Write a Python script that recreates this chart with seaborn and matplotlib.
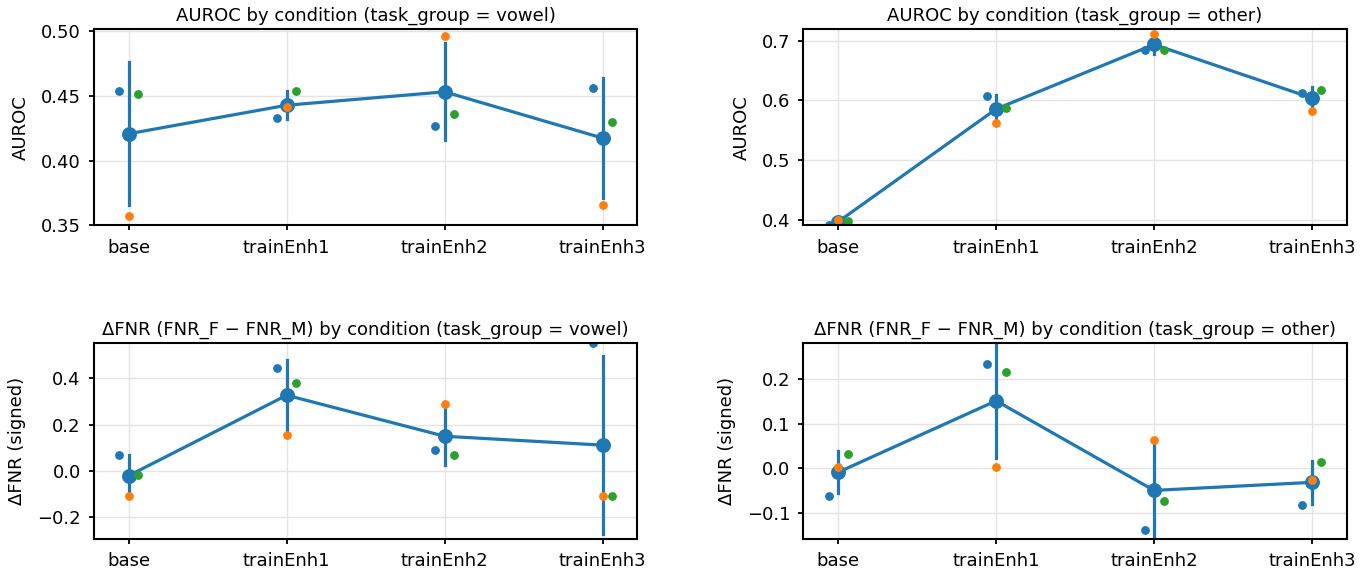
"""Per-condition AUROC and signed FNR gap, mean +/- sd over seeds, with per-seed dots."""

import numpy as np
import pandas as pd
import seaborn as sns
import matplotlib.pyplot as plt

conditions = ["base", "trainEnh1", "trainEnh2", "trainEnh3"]
seeds = ["seed0", "seed1", "seed2"]
seed_colors = ["#1f77b4", "#ff7f0e", "#2ca02c"]

# one row per condition, one value per seed
auroc_vowel = [[0.454, 0.357, 0.451],
               [0.433, 0.441, 0.454],
               [0.427, 0.496, 0.436],
               [0.456, 0.366, 0.430]]
auroc_other = [[0.392, 0.400, 0.399],
               [0.608, 0.562, 0.587],
               [0.684, 0.712, 0.685],
               [0.612, 0.582, 0.618]]
dfnr_vowel = [[0.068, -0.110, -0.020],
              [0.445, 0.156, 0.378],
              [0.090, 0.290, 0.068],
              [0.553, -0.110, -0.110]]
dfnr_other = [[-0.061, 0.004, 0.031],
              [0.234, 0.004, 0.215],
              [-0.138, 0.064, -0.074],
              [-0.082, -0.027, 0.015]]


def to_long(values, metric):
    rows = []
    for cond, vals in zip(conditions, values):
        for seed, v in zip(seeds, vals):
            rows.append({"condition": cond, "seed": seed, metric: v})
    return pd.DataFrame(rows)


def draw(ax, values, metric, title, ylabel, ylim):
    df = to_long(values, metric)
    sns.pointplot(data=df, x="condition", y=metric, order=conditions,
                  errorbar="sd", color=seed_colors[0], markersize=9,
                  linewidth=2.3, err_kws={"linewidth": 2.3}, ax=ax)
    sns.pointplot(data=df, x="condition", y=metric, hue="seed", order=conditions,
                  hue_order=seeds, palette=seed_colors, dodge=0.12,
                  linestyle="none", errorbar=None, markers="o", markersize=4.3,
                  legend=False, ax=ax)
    ax.set_xlim(-0.22, 3.22)
    ax.set_ylim(*ylim)
    ax.grid(True, color="#e4e4e4", linewidth=1.0)
    ax.set_axisbelow(True)
    ax.set_title(title, fontsize=13)
    ax.set_ylabel(ylabel, fontsize=13, labelpad=8)
    ax.set_xlabel("")
    for s in ax.spines.values():
        s.set_linewidth(1.5)
        s.set_color("black")
    ax.tick_params(labelsize=13, width=1.3, length=3.6, pad=6)


fig, axes = plt.subplots(2, 2, figsize=(13.69, 5.8), dpi=100)
fig.subplots_adjust(left=0.0687, right=0.9837, bottom=0.0707, top=0.95,
                    wspace=0.306, hspace=0.598)

draw(axes[0, 0], auroc_vowel, "AUROC", "AUROC by condition (task_group = vowel)",
     "AUROC", (0.350, 0.5015))
draw(axes[0, 1], auroc_other, "AUROC", "AUROC by condition (task_group = other)",
     "AUROC", (0.391, 0.7196))
draw(axes[1, 0], dfnr_vowel, "dFNR",
     "\u0394FNR (FNR_F \u2212 FNR_M) by condition (task_group = vowel)",
     "\u0394FNR (signed)", (-0.294, 0.553))
draw(axes[1, 1], dfnr_other, "dFNR",
     "\u0394FNR (FNR_F \u2212 FNR_M) by condition (task_group = other)",
     "\u0394FNR (signed)", (-0.158, 0.281))

plt.savefig("out.png", dpi=100)
plt.close()
